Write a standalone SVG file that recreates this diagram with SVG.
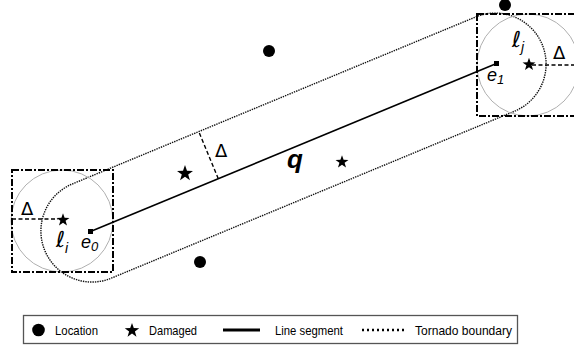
<svg xmlns="http://www.w3.org/2000/svg" width="574" height="349" viewBox="0 0 574 349">
<style>
.sq{fill:none;stroke:#000;stroke-width:2;stroke-dasharray:7 2 2 2}
.circ{fill:none;stroke:#b0b0b0;stroke-width:1}
.bound{fill:none;stroke:#111;stroke-width:1.4;stroke-dasharray:1.4 1}
.dash{fill:none;stroke:#000;stroke-width:1.4;stroke-dasharray:4 2.5}
.lbl{font-family:"Liberation Sans",Arial,sans-serif;fill:#000}
.sym{font-family:"DejaVu Sans",sans-serif;fill:#000}
.ell{font-family:"DejaVu Serif","DejaVu Sans",serif;font-style:italic;font-size:22px;fill:#000}
.leg{font-family:"Liberation Sans",Arial,sans-serif;font-size:13px;fill:#000}
</style>
<defs>
<path id="star" d="M0,-8 L1.881,-2.589 7.608,-2.472 3.043,0.989 4.702,6.472 0,3.2 -4.702,6.472 -3.043,0.989 -7.608,-2.472 -1.881,-2.589 Z" fill="#000"/>
</defs>

<g id="boundary">
<path class="bound" d="M477,16.4 L71,184.5 A51,51 0 0 0 110,278.7 L516,110.6 A51,51 0 0 0 477,16.4 Z"/>
</g>

<g id="node-li">
<circle class="circ" cx="62" cy="221" r="51"/>
<rect class="sq" x="12" y="170" width="101" height="102"/>
<line class="dash" x1="12" y1="219" x2="58" y2="219"/>
<use href="#star" transform="translate(63,220) scale(0.85)"/>
<text class="sym" x="21" y="215" font-size="18">Δ</text>
<text class="ell" x="56" y="247">ℓ<tspan class="lbl" font-size="14" dy="6">i</tspan></text>
</g>

<g id="node-lj">
<circle class="circ" cx="528" cy="65" r="51"/>
<rect class="sq" x="477" y="14" width="103" height="102"/>
<line class="dash" x1="532" y1="65" x2="574" y2="65"/>
<use href="#star" transform="translate(529,64.5) scale(0.85)"/>
<text class="sym" x="553" y="59" font-size="18">Δ</text>
<text class="ell" x="512" y="47">ℓ<tspan class="lbl" font-size="14" dy="5">j</tspan></text>
</g>

<g id="connectors">
<line x1="90.5" y1="231.6" x2="496.5" y2="63.5" stroke="#000" stroke-width="1.6"/>
<line class="dash" x1="218.3" y1="178.7" x2="198.8" y2="131.6"/>
</g>

<g id="node-e0">
<rect x="88" y="229" width="5" height="5" fill="#000"/>
<text class="lbl" x="81" y="248" font-size="18" font-style="italic">e<tspan font-size="13" dy="3">0</tspan></text>
</g>

<g id="node-e1">
<rect x="494" y="61" width="5" height="5" fill="#000"/>
<text class="lbl" x="487" y="81" font-size="18" font-style="italic">e<tspan font-size="13" dy="3">1</tspan></text>
</g>

<g id="label-q">
<text class="lbl" x="287" y="168" font-size="26" font-weight="bold" font-style="italic">q</text>
</g>
<g id="label-delta">
<text class="sym" x="215" y="157" font-size="18">Δ</text>
</g>

<g id="locations">
<circle cx="269" cy="51" r="6"/>
<circle cx="200" cy="262" r="6"/>
<circle cx="505" cy="5" r="6"/>
</g>

<g id="damaged">
<use href="#star" transform="translate(185,173.5) scale(1.05)"/>
<use href="#star" transform="translate(342,162) scale(0.85)"/>
</g>

<g id="legend">
<rect x="23.5" y="315.5" width="494" height="28" fill="#fff" stroke="#555" stroke-width="1.3"/>
<circle cx="38.5" cy="330" r="6.3"/>
<text class="leg" x="55" y="334.5" textLength="43" lengthAdjust="spacingAndGlyphs">Location</text>
<use href="#star" transform="translate(132,330.5) scale(0.95)"/>
<text class="leg" x="149" y="334.5" textLength="48" lengthAdjust="spacingAndGlyphs">Damaged</text>
<line x1="223" y1="330" x2="260" y2="330" stroke="#000" stroke-width="3"/>
<text class="leg" x="275" y="334.5" textLength="68" lengthAdjust="spacingAndGlyphs">Line segment</text>
<line x1="362" y1="330" x2="404" y2="330" stroke="#000" stroke-width="2.5" stroke-dasharray="2 3"/>
<text class="leg" x="415" y="334.5" textLength="97" lengthAdjust="spacingAndGlyphs">Tornado boundary</text>
</g>
</svg>
